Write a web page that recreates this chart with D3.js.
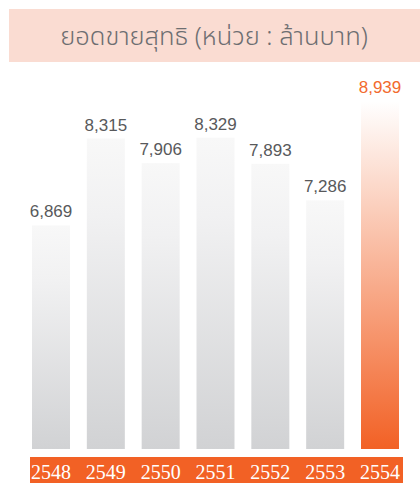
<!DOCTYPE html>
<html>
<head>
<meta charset="utf-8">
<script src="https://cdn.jsdelivr.net/npm/d3@7/dist/d3.min.js"></script>
<style>
  html, body { margin: 0; padding: 0; background: #ffffff; }
  svg { display: block; }
</style>
</head>
<body>
<div id="chart"></div>
<script>
const title = "ยอดขายสุทธิ (หน่วย : ล้านบาท)";
const years = ["2548", "2549", "2550", "2551", "2552", "2553", "2554"];
const sales = [6869, 8315, 7906, 8329, 7893, 7286, 8939];
const highlightYear = "2554";

const W = 420, H = 483;
const svg = d3.select("#chart").append("svg")
  .attr("width", W).attr("height", H);

const defs = svg.append("defs");
const gGray = defs.append("linearGradient").attr("id", "gGray")
  .attr("x1", 0).attr("y1", 0).attr("x2", 0).attr("y2", 1);
gGray.append("stop").attr("offset", "0%").attr("stop-color", "#f8f8f8");
gGray.append("stop").attr("offset", "25%").attr("stop-color", "#f1f1f2");
gGray.append("stop").attr("offset", "100%").attr("stop-color", "#d1d2d4");
const gOrange = defs.append("linearGradient").attr("id", "gOrange")
  .attr("x1", 0).attr("y1", 0).attr("x2", 0).attr("y2", 1);
gOrange.append("stop").attr("offset", "0%").attr("stop-color", "#ffffff");
gOrange.append("stop").attr("offset", "100%").attr("stop-color", "#f26125");

// title box
svg.append("rect").attr("x", 9).attr("y", 9).attr("width", W - 9).attr("height", 53)
  .attr("fill", "#fadcd2");
svg.append("text").attr("x", 214).attr("y", 45)
  .attr("text-anchor", "middle")
  .attr("font-family", "'Noto Sans Thai', 'Noto Sans', 'Liberation Sans', sans-serif")
  .attr("font-size", 25.5).attr("font-weight", 300).attr("fill", "#6d6e71")
  .text(title);

const x = d3.scaleBand().domain(years).range([32, 399]).paddingInner(0.307).paddingOuter(0);
const y = d3.scaleLinear().domain([3150, 8939]).range([449, 101]);

// year band
svg.append("rect").attr("x", 30).attr("y", 457).attr("width", 373).attr("height", H - 457)
  .attr("fill", "#f26125");

const data = years.map((yr, i) => ({ yr, v: sales[i] }));

svg.selectAll("rect.bar").data(data).join("rect")
  .attr("class", "bar")
  .attr("x", d => x(d.yr))
  .attr("width", x.bandwidth())
  .attr("y", d => y(d.v))
  .attr("height", d => y.range()[0] - y(d.v))
  .attr("fill", d => d.yr === highlightYear ? "url(#gOrange)" : "url(#gGray)");

svg.selectAll("text.val").data(data).join("text")
  .attr("class", "val")
  .attr("x", d => x(d.yr) + x.bandwidth() / 2)
  .attr("y", d => y(d.v) - 8)
  .attr("text-anchor", "middle")
  .attr("font-family", "'Liberation Sans', Arial, sans-serif")
  .attr("font-size", 17)
  .attr("fill", d => d.yr === highlightYear ? "#f26a2e" : "#58595b")
  .text(d => d3.format(",")(d.v));

svg.selectAll("text.yr").data(data).join("text")
  .attr("class", "yr")
  .attr("x", d => x(d.yr) + x.bandwidth() / 2)
  .attr("y", 479)
  .attr("text-anchor", "middle")
  .attr("font-family", "'Liberation Serif', 'Times New Roman', serif")
  .attr("font-size", 20)
  .attr("fill", "#ffffff")
  .text(d => d.yr);
</script>
</body>
</html>
